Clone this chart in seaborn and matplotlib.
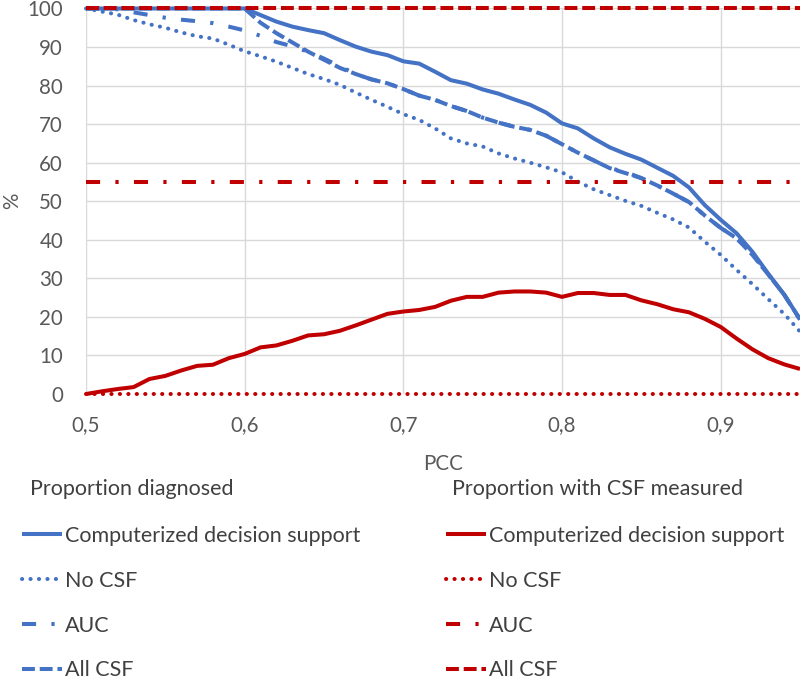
import matplotlib
matplotlib.use("Agg")
import matplotlib.pyplot as plt
from matplotlib.lines import Line2D
import seaborn as sns
import pandas as pd

# ---- data ----
pcc = [0.50, 0.51, 0.52, 0.53, 0.54, 0.55, 0.56, 0.57, 0.58, 0.59,
       0.60, 0.61, 0.62, 0.63, 0.64, 0.65, 0.66, 0.67, 0.68, 0.69,
       0.70, 0.71, 0.72, 0.73, 0.74, 0.75, 0.76, 0.77, 0.78, 0.79,
       0.80, 0.81, 0.82, 0.83, 0.84, 0.85, 0.86, 0.87, 0.88, 0.89,
       0.90, 0.91, 0.92, 0.93, 0.94, 0.95]

diag_cds = [100, 100, 100, 100, 100, 100, 100, 100, 100, 100,
            100, 98.3, 96.6, 95.3, 94.4, 93.6, 91.8, 90.1, 88.8, 87.9,
            86.3, 85.7, 83.6, 81.4, 80.5, 79.0, 77.9, 76.4, 75.0, 73.0,
            70.2, 68.9, 66.3, 64.0, 62.3, 60.8, 58.7, 56.6, 53.6, 49.0,
            45.2, 41.7, 36.9, 31.2, 25.8, 19.4]
diag_nocsf = [100, 99.2, 98.4, 97.0, 95.9, 95.0, 93.8, 92.8, 92.2, 90.6,
              88.9, 87.6, 86.2, 84.6, 83.0, 81.7, 80.2, 78.2, 76.3, 74.5,
              72.6, 71.1, 68.9, 66.3, 65.0, 64.2, 62.4, 61.1, 60.0, 58.8,
              57.5, 55.1, 53.1, 51.6, 50.1, 48.8, 47.0, 45.3, 43.2, 39.5,
              36.1, 32.2, 28.5, 24.6, 20.8, 16.2]
diag_auc = [100, 100, 99.8, 99.0, 98.3, 97.6, 97.1, 96.7, 96.2, 95.3,
            94.3, 92.9, 91.3, 90.2, 88.8, 87.0, 85.0, 83.0, 81.6, 80.6,
            79.1, 77.4, 76.3, 74.7, 73.4, 71.7, 70.4, 69.3, 68.5, 67.0,
            64.8, 62.6, 60.6, 58.6, 57.6, 56.0, 54.1, 52.0, 49.8, 46.3,
            43.1, 40.4, 36.5, 31.0, 25.8, 19.3]
diag_allcsf = [100, 100, 100, 100, 100, 100, 100, 100, 100, 100,
               100, 96.3, 93.6, 91.2, 88.8, 86.7, 84.6, 83.0, 81.6, 80.6,
               79.1, 77.4, 76.3, 74.7, 73.4, 71.7, 70.4, 69.3, 68.5, 67.0,
               64.8, 62.6, 60.6, 58.6, 57.3, 56.0, 54.1, 52.0, 49.8, 46.3,
               43.1, 40.4, 36.1, 31.0, 25.8, 19.3]

csf_cds = [0, 0.7, 1.3, 1.8, 3.9, 4.7, 6.1, 7.3, 7.6, 9.3,
           10.4, 12.1, 12.6, 13.8, 15.2, 15.5, 16.4, 17.8, 19.3, 20.8,
           21.4, 21.8, 22.6, 24.2, 25.2, 25.2, 26.3, 26.6, 26.6, 26.3,
           25.2, 26.2, 26.2, 25.7, 25.7, 24.3, 23.3, 22.0, 21.2, 19.5,
           17.4, 14.4, 11.6, 9.3, 7.7, 6.5]
csf_nocsf = [0] * len(pcc)
csf_auc = [55] * len(pcc)
csf_allcsf = [100] * len(pcc)

x_ticks = [0.5, 0.6, 0.7, 0.8, 0.9]
x_tick_labels = ["0,5", "0,6", "0,7", "0,8", "0,9"]
y_ticks = [0, 10, 20, 30, 40, 50, 60, 70, 80, 90, 100]

legend_titles = ["Proportion diagnosed", "Proportion with CSF measured"]
legend_labels = ["Computerized decision support", "No CSF", "AUC", "All CSF"]

# ---- style ----
sns.set_theme(style="white")
plt.rcParams["font.family"] = ["Lato", "DejaVu Sans"]

BLUE = "#4472C4"
RED = "#C00000"
GRID = "#D9D9D9"
TXT = "#595959"
LEGTXT = "#404040"
LW = 2.9
TICKFS = 14.8
LEGFS = 15.5

styles = {
    "cds": dict(linestyle="-", dash_capstyle="butt", solid_capstyle="butt"),
    "nocsf": dict(linestyle=(0, (0.05, 2.05)), dash_capstyle="round"),
    "auc": dict(linestyle=(0, (3.5, 3.8, 0.8, 3.8)), dash_capstyle="butt"),
    "allcsf": dict(linestyle=(0, (3.2, 1.2)), dash_capstyle="butt"),
}

df = pd.DataFrame({
    "pcc": pcc,
    "diag_cds": diag_cds, "diag_nocsf": diag_nocsf,
    "diag_auc": diag_auc, "diag_allcsf": diag_allcsf,
    "csf_cds": csf_cds, "csf_nocsf": csf_nocsf,
    "csf_auc": csf_auc, "csf_allcsf": csf_allcsf,
})

fig = plt.figure(figsize=(8.0, 6.79), dpi=100)
ax = fig.add_axes([0.1075, 0.4197, 0.8925, 0.5678])

for key in ["cds", "nocsf", "auc", "allcsf"]:
    sns.lineplot(data=df, x="pcc", y="diag_" + key, ax=ax, color=BLUE,
                 linewidth=LW, clip_on=False, zorder=3, **styles[key])
for key in ["cds", "nocsf", "auc", "allcsf"]:
    sns.lineplot(data=df, x="pcc", y="csf_" + key, ax=ax, color=RED,
                 linewidth=LW, clip_on=False, zorder=4, **styles[key])

ax.set_xlim(0.5, 0.95)
ax.set_ylim(0, 100)
ax.set_xticks(x_ticks)
ax.set_xticklabels(x_tick_labels)
ax.set_yticks(y_ticks)
ax.grid(True, color=GRID, linewidth=1.0)
for s in ax.spines.values():
    s.set_visible(False)
ax.tick_params(axis="both", length=0, labelsize=TICKFS, colors=TXT)
ax.tick_params(axis="y", pad=16.5)
ax.tick_params(axis="x", pad=15.5)
ax.set_xlabel("PCC", fontsize=TICKFS, color=TXT, labelpad=13)
ax.set_ylabel("%", fontsize=TICKFS, color=TXT, labelpad=4)

def handles(color):
    return [Line2D([0], [0], color=color, linewidth=LW, **styles[k])
            for k in ["cds", "nocsf", "auc", "allcsf"]]

common = dict(frameon=False, fontsize=LEGFS,
              handlelength=1.85, handletextpad=0.15, labelspacing=1.15,
              labelcolor=LEGTXT, borderpad=0.0, borderaxespad=0.0)
fig.text(30 / 800, 1 - 489 / 679, legend_titles[0], fontsize=LEGFS,
         color=LEGTXT, ha="left", va="center")
fig.text(452 / 800, 1 - 489 / 679, legend_titles[1], fontsize=LEGFS,
         color=LEGTXT, ha="left", va="center")
fig.legend(handles(BLUE), legend_labels, loc="upper left",
           bbox_to_anchor=(22 / 800, 1 - 526 / 679), **common)
fig.legend(handles(RED), legend_labels, loc="upper left",
           bbox_to_anchor=(446 / 800, 1 - 526 / 679), **common)

fig.savefig("out.png", dpi=100)
